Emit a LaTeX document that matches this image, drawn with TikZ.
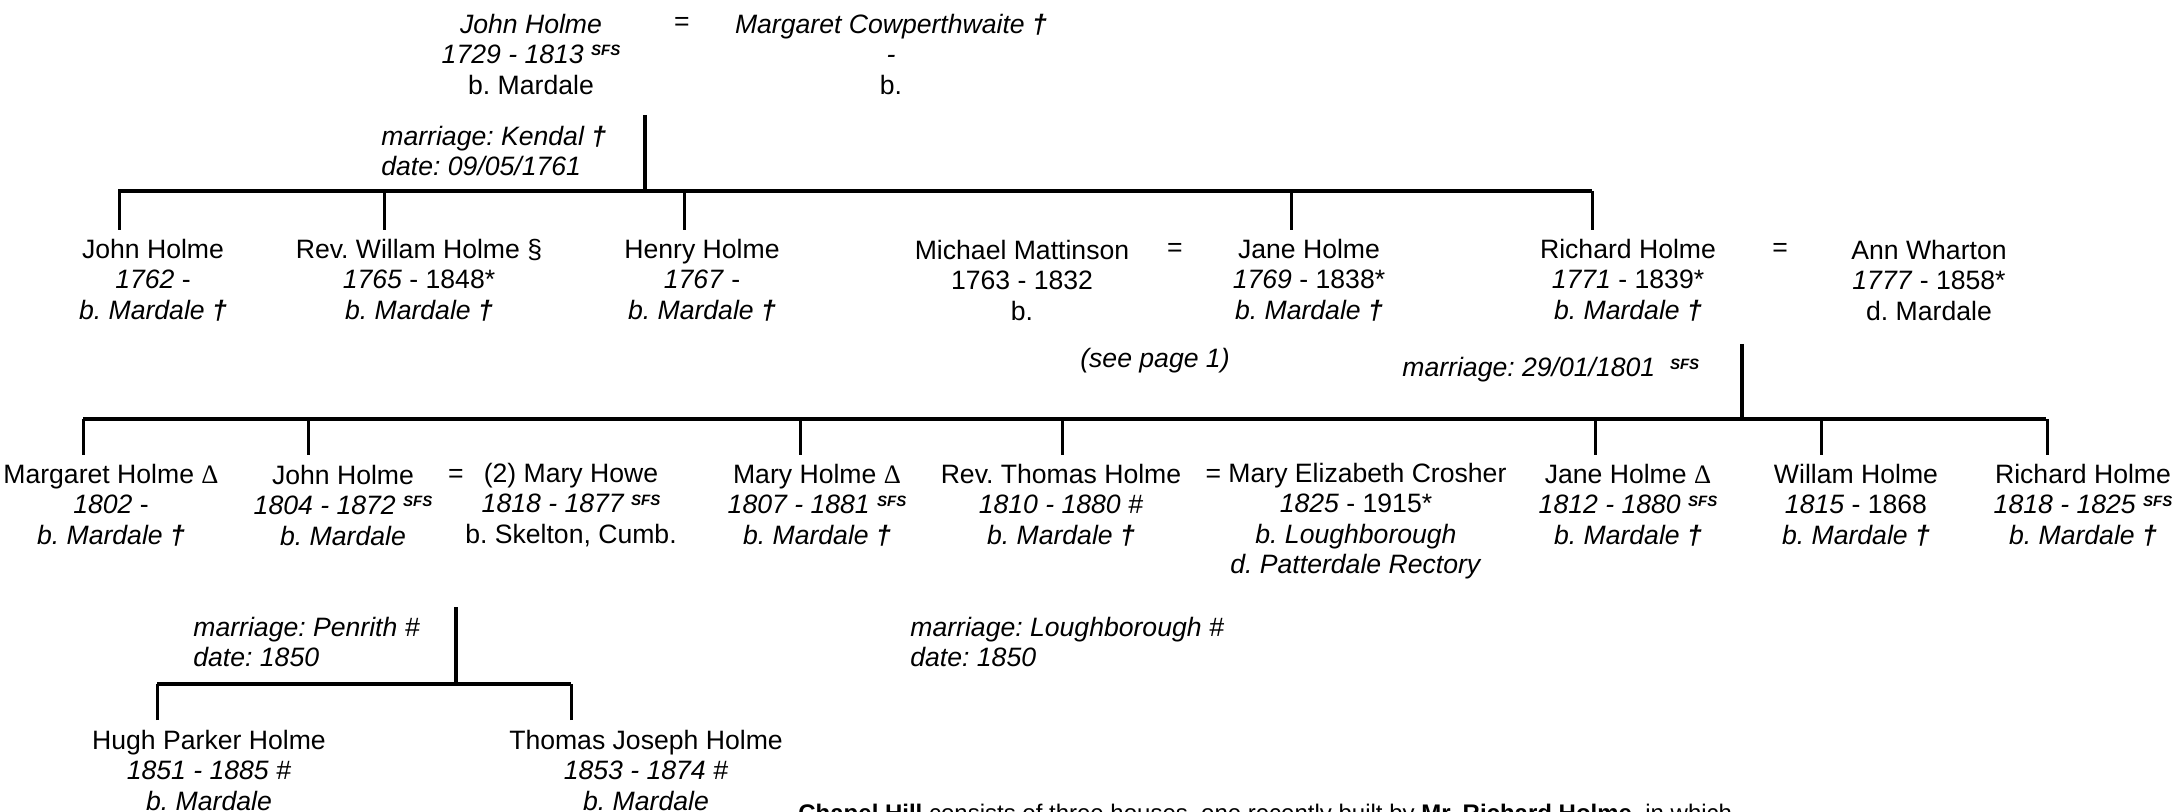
\documentclass[tikz,border=0pt]{standalone}
\usepackage{fontspec}
\setmainfont{Liberation Sans}
\newfontfamily\deltafont{Liberation Serif}
\newcommand{\sfs}{\raisebox{0.55ex}{\fontsize{7.5}{8}\selectfont\bfseries\itshape SFS}}
\newcommand{\cross}{\textbf{†}}
\newcommand{\dlt}{{\deltafont Δ}}
\frenchspacing

\begin{document}
\begin{tikzpicture}[x=0.5pt,y=-0.5pt,
  person/.style={align=center, inner sep=0pt, font=\fontsize{13.3}{15.25}\selectfont},
  note/.style={align=left, anchor=west, inner sep=0pt, font=\fontsize{13.3}{15.25}\selectfont\itshape},
  bar/.style={line width=2.3pt},
  stem/.style={line width=1.8pt},
  drop/.style={line width=1.5pt}]
  \useasboundingbox (0,0) rectangle (2175,812);

    \node[person] (P1) at (531,54) {\textit{John Holme}\\\textit{1729 - 1813 \sfs}\\b. Mardale};
    \node[person] (E1) at (682,23.6) {=};
    \node[person] (P2) at (891,54) {\textit{Margaret Cowperthwaite \cross}\\\textit{-}\\b.};
    \node[note] (M1) at (381,151) {marriage: Kendal \cross\\date: 09/05/1761};
    \coordinate (U1) at (645,115);
    \coordinate (B1a) at (118,191);
    \coordinate (B1b) at (1592,191);
    \draw[stem] (U1) -- (U1 |- B1a);
    \draw[bar] (B1a) -- (B1b);
    \foreach \x [count=\n] in {119,384,684,1291,1592} {
      \coordinate (C1\n) at (\x,230);
      \draw[drop] (C1\n) -- (C1\n |- B1a);
    }

    \node[person] (Q1) at (153,280) {John Holme\\\textit{1762} -\\\textit{b. Mardale \cross}};
    \node[person] (Q2) at (419,280) {Rev. Willam Holme §\\\textit{1765} - 1848*\\\textit{b. Mardale \cross}};
    \node[person] (Q3) at (702,280) {Henry Holme\\\textit{1767} -\\\textit{b. Mardale \cross}};
    \node[person] (Q4) at (1022,280) {Michael Mattinson\\1763 - 1832\\b.};
    \node[person] (E2) at (1175,250) {=};
    \node[person] (Q5) at (1309,280) {Jane Holme\\\textit{1769} - 1838*\\\textit{b. Mardale \cross}};
    \node[person] (Q6) at (1628,280) {Richard Holme\\\textit{1771} - 1839*\\\textit{b. Mardale \cross}};
    \node[person] (E3) at (1780,250) {=};
    \node[person] (Q7) at (1929,280) {Ann Wharton\\\textit{1777} - 1858*\\d. Mardale};
    \node[person] (N1) at (1155,361) {\textit{(see page 1)}};
    \node[note] (M2) at (1402,370) {marriage: 29/01/1801 \ \sfs};
    \coordinate (U2) at (1742,344);
    \coordinate (B2a) at (83,419);
    \coordinate (B2b) at (2046,419);
    \draw[stem] (U2) -- (U2 |- B2a);
    \draw[bar] (B2a) -- (B2b);
    \foreach \x [count=\n] in {83,308,800,1062,1595,1821,2047} {
      \coordinate (C2\n) at (\x,455);
      \draw[drop] (C2\n) -- (C2\n |- B2a);
    }

    \node[person] (R1) at (111,505) {Margaret Holme \dlt\\\textit{1802} -\\\textit{b. Mardale \cross}};
    \node[person] (R2) at (343,505) {John Holme\\\textit{1804 - 1872 \sfs}\\\textit{b. Mardale}};
    \node[person] (E4) at (456,476) {=};
    \node[person] (R3) at (571,505) {(2) Mary Howe\\\textit{1818 - 1877 \sfs}\\b. Skelton, Cumb.};
    \node[person] (R4) at (817,505) {Mary Holme \dlt\\\textit{1807 - 1881 \sfs}\\\textit{b. Mardale \cross}};
    \node[person] (R5) at (1061,505) {Rev. Thomas Holme\\\textit{1810 - 1880 \#}\\\textit{b. Mardale \cross}};
    \node[person] (R6) at (1356,521) {= Mary Elizabeth Crosher\\\textit{1825} - 1915*\\\textit{b. Loughborough}\\\textit{d. Patterdale Rectory}};
    \node[person] (R7) at (1628,505) {Jane Holme \dlt\\\textit{1812 - 1880 \sfs}\\\textit{b. Mardale \cross}};
    \node[person] (R8) at (1856,505) {Willam Holme\\\textit{1815} - 1868\\\textit{b. Mardale \cross}};
    \node[person] (R9) at (2083,505) {Richard Holme\\\textit{1818 - 1825 \sfs}\\\textit{b. Mardale \cross}};

    \node[note] (M3) at (193,642) {marriage: Penrith \#\\date: 1850};
    \coordinate (U3) at (456,607);
    \coordinate (B3a) at (157,684);
    \coordinate (B3b) at (571,684);
    \draw[stem] (U3) -- (U3 |- B3a);
    \draw[bar] (B3a) -- (B3b);
    \foreach \x [count=\n] in {157,571} {
      \coordinate (C3\n) at (\x,720);
      \draw[drop] (C3\n) -- (C3\n |- B3a);
    }
    \node[person] (S1) at (209,770) {Hugh Parker Holme\\\textit{1851 - 1885 \#}\\\textit{b. Mardale}};
    \node[person] (S2) at (646,770) {Thomas Joseph Holme\\\textit{1853 - 1874 \#}\\\textit{b. Mardale}};
    \node[note] (M4) at (910,642) {marriage: Loughborough \#\\date: 1850};

    \node[anchor=base west, inner sep=0pt, font=\fontsize{12}{14}\selectfont] (T1) at (798,821) {\textbf{Chapel Hill} consists of three houses, one recently built by \textbf{Mr. Richard Holme}, in which};
\end{tikzpicture}
\end{document}
